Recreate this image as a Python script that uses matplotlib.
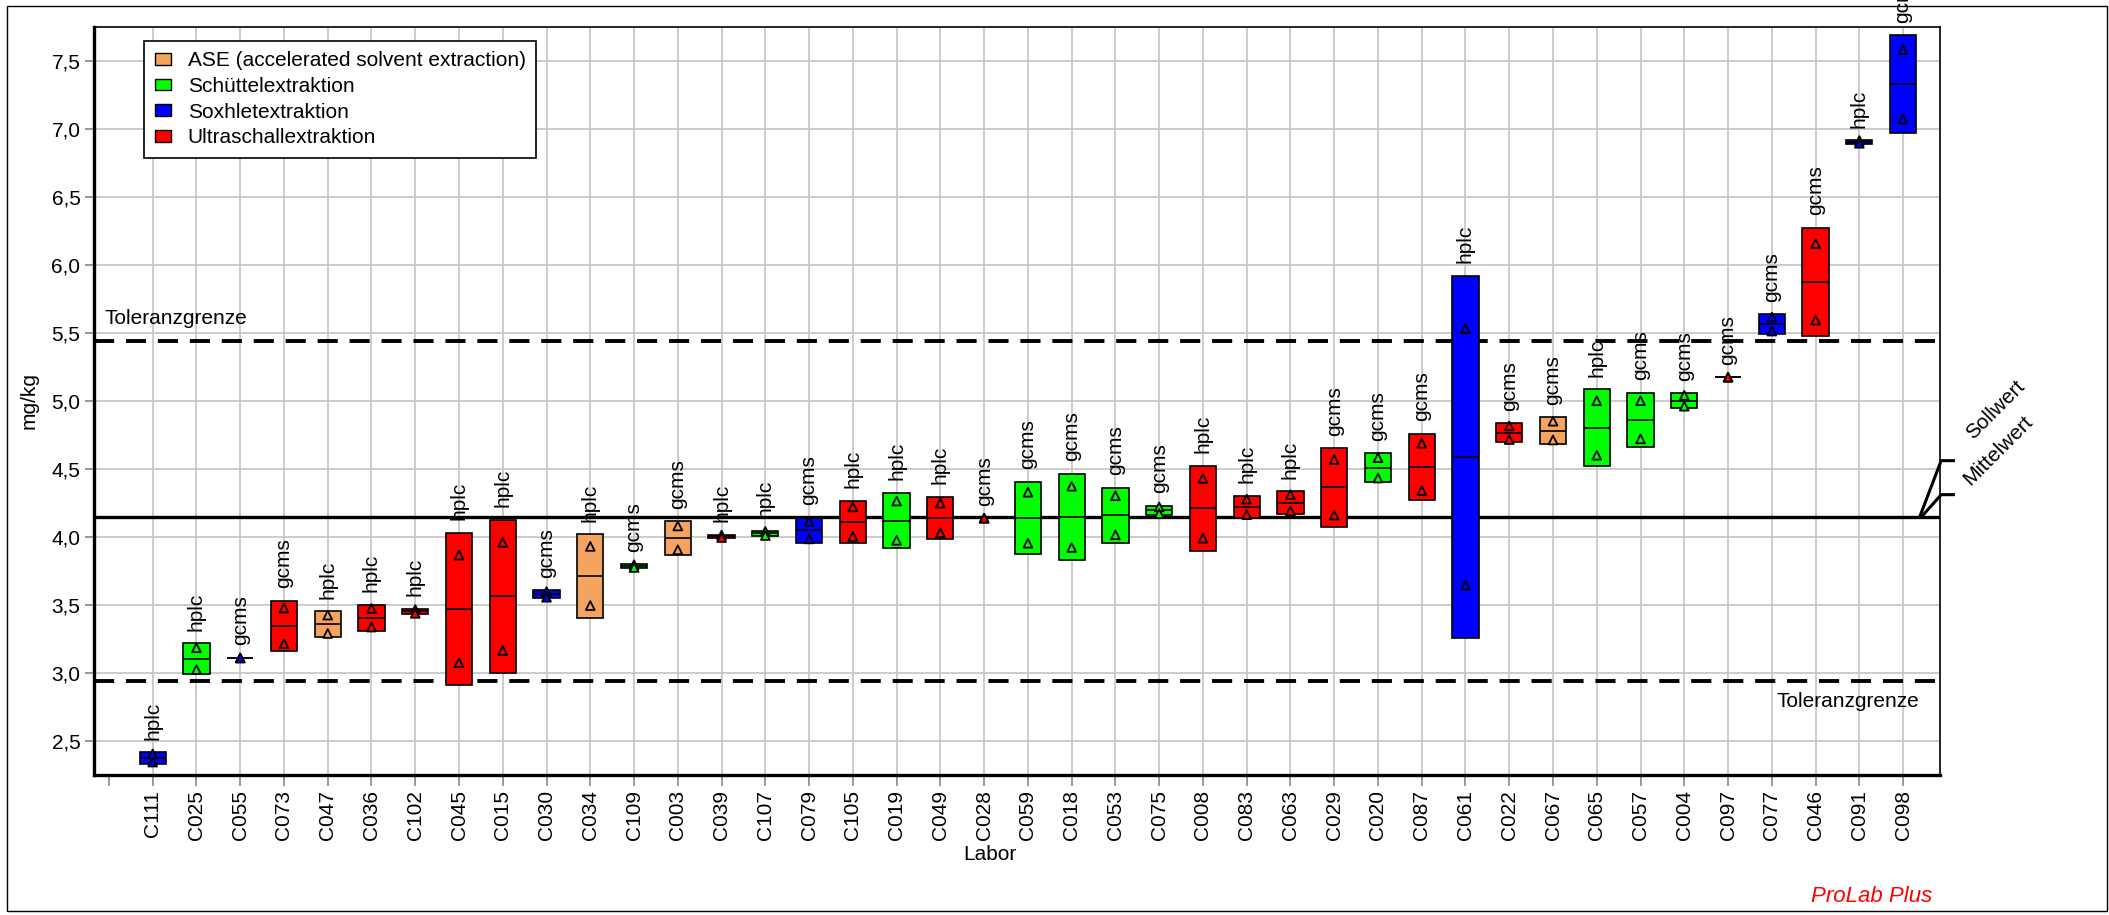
import numpy as np
import matplotlib
matplotlib.use('agg')
from matplotlib import pyplot as plt
from matplotlib.patches import Patch, Rectangle
from matplotlib.ticker import FuncFormatter

plt.rcParams['font.family'] = ['Liberation Sans', 'DejaVu Sans']
plt.rcParams['font.size'] = 15
plt.rcParams['lines.scale_dashes'] = False

# labs sorted by mean, extraction method and detection method
labs = ['C111', 'C025', 'C055', 'C073', 'C047', 'C036', 'C102', 'C045', 'C015', 'C030',
        'C034', 'C109', 'C003', 'C039', 'C107', 'C079', 'C105', 'C019', 'C049', 'C028',
        'C059', 'C018', 'C053', 'C075', 'C008', 'C083', 'C063', 'C029', 'C020', 'C087',
        'C061', 'C022', 'C067', 'C065', 'C057', 'C004', 'C097', 'C077', 'C046', 'C091',
        'C098']
methods = ['sox', 'sch', 'sox', 'ult', 'ase', 'ult', 'ult', 'ult', 'ult', 'sox',
           'ase', 'sch', 'ase', 'ult', 'sch', 'sox', 'ult', 'sch', 'ult', 'ult',
           'sch', 'sch', 'sch', 'sch', 'ult', 'ult', 'ult', 'ult', 'sch', 'ult',
           'sox', 'ult', 'ase', 'sch', 'sch', 'sch', 'ult', 'sox', 'ult', 'sox',
           'sox']
detect = ['hplc', 'hplc', 'gcms', 'gcms', 'hplc', 'hplc', 'hplc', 'hplc', 'hplc', 'gcms',
          'hplc', 'gcms', 'gcms', 'hplc', 'hplc', 'gcms', 'hplc', 'hplc', 'hplc', 'gcms',
          'gcms', 'gcms', 'gcms', 'gcms', 'hplc', 'hplc', 'hplc', 'gcms', 'gcms', 'gcms',
          'hplc', 'gcms', 'gcms', 'hplc', 'gcms', 'gcms', 'gcms', 'gcms', 'gcms', 'hplc',
          'gcms']
# two single results per lab (mg/kg)
value_1 = [2.405, 3.185, 3.11, 3.477, 3.425, 3.474, 3.466, 3.866, 3.96, 3.598,
           3.93, 3.795, 4.08, 4.013, 4.04, 4.113, 4.22, 4.263, 4.248, 4.137,
           4.328, 4.372, 4.302, 4.22, 4.43, 4.277, 4.31, 4.568, 4.582, 4.687,
           5.53, 4.815, 4.85, 5.0, 5.0, 5.04, 5.173, 5.615, 6.155, 6.912,
           7.58]
value_2 = [2.345, 3.025, 3.11, 3.215, 3.29, 3.337, 3.438, 3.075, 3.165, 3.556,
           3.495, 3.775, 3.905, 3.995, 4.01, 3.985, 4.003, 3.975, 4.03, 4.137,
           3.953, 3.922, 4.015, 4.17, 3.99, 4.163, 4.19, 4.16, 4.432, 4.34,
           3.645, 4.715, 4.712, 4.6, 4.72, 4.96, 5.173, 5.512, 5.593, 6.892,
           7.07]

assigned = 4.147
tol_upper = 5.44
tol_lower = 2.94

method_names = {'ase': 'ASE (accelerated solvent extraction)',
                'sch': 'Schüttelextraktion',
                'sox': 'Soxhletextraktion',
                'ult': 'Ultraschallextraktion'}
method_colors = {'ase': '#F4A460', 'sch': '#00FF00', 'sox': '#0000FF', 'ult': '#FF0000'}

vals = np.array([value_1, value_2])
mean = vals.mean(axis=0)
sd = vals.std(axis=0, ddof=1)
pos = np.arange(1, len(labs) + 1)
colors = [method_colors[m] for m in methods]

fig = plt.figure(figsize=(21.09, 9.15), dpi=100)
ax = fig.add_axes([0.0447, 0.153, 0.8753, 0.818])

ax.set_xlim(-0.335, 41.85)
ax.set_ylim(2.25, 7.75)

# reference lines
dash = (0, (14.5, 8.5))
ax.axhline(assigned, color='k', lw=2.4, zorder=2)
ax.axhline(tol_upper, color='k', lw=2.8, ls=dash, zorder=2)
ax.axhline(tol_lower, color='k', lw=2.8, ls=dash, zorder=2)

# boxes: mean +- sd, line at mean, triangles at single values
ax.bar(pos, 2 * sd, bottom=mean - sd, width=0.6, color=colors,
       edgecolor='k', linewidth=1.2, zorder=3)
ax.hlines(mean, pos - 0.3, pos + 0.3, color='k', lw=1.2, zorder=4)
for v in vals:
    ax.scatter(pos, v, marker='^', s=40, facecolors=colors, edgecolors='k',
               linewidths=1.3, zorder=5)

for x, top, d in zip(pos, mean + sd, detect):
    ax.annotate(d, xy=(x, top), xytext=(0, 9), textcoords='offset points',
                rotation=90, ha='center', va='bottom', fontsize=15, zorder=6)

ax.annotate('Toleranzgrenze', xy=(-0.1, tol_upper), xytext=(0, 12),
            textcoords='offset points', ha='left', va='baseline')
ax.annotate('Toleranzgrenze', xy=(41.36, tol_lower), xytext=(0, -8),
            textcoords='offset points', ha='right', va='top')

# Sollwert / Mittelwert markers on the right
ax.plot([41.38, 41.87, 42.15], [assigned, 4.56, 4.56], color='k', lw=2.2, clip_on=False)
ax.plot([41.42, 41.87, 42.15], [assigned, 4.31, 4.31], color='k', lw=2.2, clip_on=False)
ax.text(42.5, 4.74, 'Sollwert', rotation=45, rotation_mode='anchor',
        ha='left', va='center', clip_on=False)
ax.text(42.45, 4.40, 'Mittelwert', rotation=45, rotation_mode='anchor',
        ha='left', va='center', clip_on=False)

# axes styling
ax.set_xticks(np.arange(0, len(labs) + 1))
ax.set_xticklabels([''] + labs, rotation=90)
ax.set_yticks(np.arange(2.5, 7.51, 0.5))
ax.yaxis.set_major_formatter(FuncFormatter(lambda v, _: f'{v:.1f}'.replace('.', ',')))
ax.tick_params(axis='x', length=8, width=1.2, color='#888888', pad=3, labelsize=15)
ax.tick_params(axis='y', length=6.5, width=1.2, color='#888888', pad=3.5, labelsize=15)
ax.grid(True, color='#C4C4C4', lw=1.2, zorder=0)
ax.set_axisbelow(True)
ax.xaxis.get_gridlines()[0].set_visible(False)

for side in ['left', 'bottom']:
    ax.spines[side].set_linewidth(2.4)
for side in ['top', 'right']:
    ax.spines[side].set_linewidth(1.2)

ax.set_xlabel('Labor')
ax.xaxis.set_label_coords(0.485, -0.094)
ax.set_ylabel('mg/kg', labelpad=9)

handles = [Patch(facecolor=method_colors[k], edgecolor='k', linewidth=1.0, label=method_names[k])
           for k in ['ase', 'sch', 'sox', 'ult']]
leg = ax.legend(handles=handles, loc='upper left', bbox_to_anchor=(0.027, 0.981),
                borderaxespad=0, fancybox=False, framealpha=1, edgecolor='k',
                handlelength=0.8, handleheight=0.5, handletextpad=0.8,
                labelspacing=0.32, borderpad=0.5, fontsize=15)
leg.get_frame().set_linewidth(1.2)
leg.set_zorder(10)

fig.text(0.916, 0.0142, 'ProLab Plus', color='red', style='italic', fontsize=16,
         ha='right', va='baseline')
fig.patches.append(Rectangle((0.0033, 0.004), 0.9956, 0.9894, transform=fig.transFigure,
                             fill=False, edgecolor='k', linewidth=1.0, zorder=-1))

fig.savefig('out.png', dpi=100)
